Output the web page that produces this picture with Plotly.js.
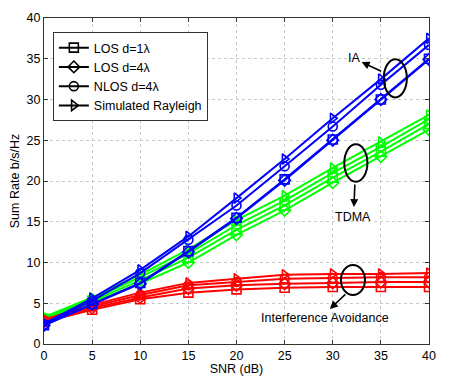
<!DOCTYPE html>
<html>
<head>
<meta charset="utf-8">
<script src="https://cdn.plot.ly/plotly-3.0.1.min.js"></script>
<style>
  html, body { margin: 0; padding: 0; background: #fff; }
  #chart { width: 457px; height: 376px; }
</style>
</head>
<body>
<div id="chart"></div>
<script>
// SNR axis (dB)
var snr = [0, 5, 10, 15, 20, 25, 30, 35, 40];

// IA (blue)
var iaLos1   = [2.3, 4.9, 7.5, 11.4, 15.5, 20.2, 25.1, 30.0, 35.0];
var iaLos4   = [2.3, 4.9, 7.4, 11.3, 15.4, 20.1, 25.0, 30.0, 34.9];
var iaNlos4  = [2.4, 5.3, 8.7, 12.8, 17.0, 21.8, 26.7, 31.8, 36.7];
var iaRay    = [2.5, 5.6, 9.1, 13.2, 17.9, 22.7, 27.7, 32.5, 37.5];

// TDMA (green)
var tdLos1   = [3.1, 5.3, 7.8, 10.6, 14.0, 17.0, 20.4, 23.6, 27.0];
var tdLos4   = [3.0, 5.1, 7.4, 10.0, 13.4, 16.4, 19.8, 23.0, 26.3];
var tdNlos4  = [3.2, 5.5, 8.2, 11.1, 14.6, 17.6, 21.0, 24.2, 27.6];
var tdRay    = [3.3, 5.7, 8.5, 11.6, 15.2, 18.2, 21.6, 24.8, 28.1];

// Interference Avoidance (red)
var avLos1   = [2.7, 4.2, 5.5, 6.3, 6.7, 6.9, 7.0, 7.0, 7.0];
var avLos4   = [2.8, 4.4, 5.7, 6.8, 7.2, 7.4, 7.5, 7.6, 7.6];
var avNlos4  = [2.9, 4.6, 6.0, 7.2, 7.6, 8.0, 8.1, 8.2, 8.2];
var avRay    = [3.0, 4.8, 6.3, 7.5, 8.0, 8.5, 8.6, 8.6, 8.7];

var legendNames = ['LOS d=1\u03bb', 'LOS d=4\u03bb', 'NLOS d=4\u03bb', 'Simulated Rayleigh'];
var symbols = ['square-open', 'diamond-open', 'circle-open', 'triangle-right-open'];

function mk(y, color, k, legend) {
  return {
    type: 'scatter', mode: 'lines+markers', x: snr, y: y,
    name: legendNames[k], showlegend: legend,
    line: { color: color, width: 2 },
    marker: { symbol: symbols[k], size: 9, color: color, line: { color: color, width: 1.6 } }
  };
}

var data = [];
var groups = [
  ['#00ff00', [tdLos1, tdLos4, tdNlos4, tdRay]],
  ['#ff0000', [avLos1, avLos4, avNlos4, avRay]],
  ['#0000ff', [iaLos1, iaLos4, iaNlos4, iaRay]]
];
groups.forEach(function (g) {
  g[1].forEach(function (y, k) { data.push(mk(y, g[0], k, false)); });
});
// black legend entries
for (var k = 0; k < 4; k++) {
  data.push({
    type: 'scatter', mode: 'lines+markers', x: [null], y: [null],
    name: legendNames[k], showlegend: true,
    line: { color: '#000', width: 2 },
    marker: { symbol: symbols[k], size: 9, color: '#000', line: { color: '#000', width: 1.6 } }
  });
}

function ell(cx, cy, rx, ry) {
  return { type: 'circle', xref: 'x', yref: 'y', x0: cx - rx, x1: cx + rx, y0: cy - ry, y1: cy + ry,
           line: { color: '#000', width: 2 } };
}
function arrow(x, y, ax, ay) {
  return { x: x, y: y, ax: ax, ay: ay, text: '', showarrow: true, arrowhead: 2, arrowsize: 1,
           arrowwidth: 1.6, arrowcolor: '#000' };
}
function label(x, y, t) {
  return { x: x, y: y, text: t, showarrow: false, font: { size: 12.5, color: '#000' } };
}

var grid = { showgrid: true, gridcolor: '#c8c8c8', griddash: 'dot', gridwidth: 1 };

var layout = {
  width: 457, height: 376,
  margin: { l: 44, r: 28, t: 18, b: 32 },
  paper_bgcolor: '#fff', plot_bgcolor: '#fff',
  font: { family: 'Liberation Sans, Arial, sans-serif', size: 12.5, color: '#000' },
  xaxis: Object.assign({
    range: [0, 40], tickvals: snr, ticks: 'inside', ticklen: 4, tickcolor: '#333',
    showline: true, linecolor: '#333', linewidth: 1, mirror: 'ticks', zeroline: false,
    title: { text: 'SNR (dB)', standoff: 2, font: { size: 12.5 } }
  }, grid),
  yaxis: Object.assign({
    range: [0, 40], dtick: 5, ticks: 'inside', ticklen: 4, tickcolor: '#333',
    showline: true, linecolor: '#333', linewidth: 1, mirror: 'ticks', zeroline: false,
    title: { text: 'Sum Rate b/s/Hz', standoff: 4, font: { size: 12.5 } }
  }, grid),
  showlegend: true,
  legend: {
    x: 0.023, y: 0.957, xanchor: 'left', yanchor: 'top',
    bgcolor: '#fff', bordercolor: '#333', borderwidth: 1,
    font: { size: 12.5 }, tracegroupgap: 0, itemwidth: 30
  },
  shapes: [
    ell(36.5, 32.6, 1.2, 2.35),
    ell(32.4, 22.2, 1.2, 2.3),
    ell(32.1, 7.85, 1.25, 1.84)
  ],
  annotations: [
    arrow(33.0, 34.6, 21, 10),
    label(32.2, 35.1, 'IA'),
    arrow(32.2, 16.8, 1, -24),
    label(32.1, 15.6, 'TDMA'),
    arrow(29.7, 4.3, 17, -16),
    label(29.2, 3.2, 'Interference Avoidance')
  ]
};

Plotly.newPlot('chart', data, layout, { displayModeBar: false });
</script>
</body>
</html>
